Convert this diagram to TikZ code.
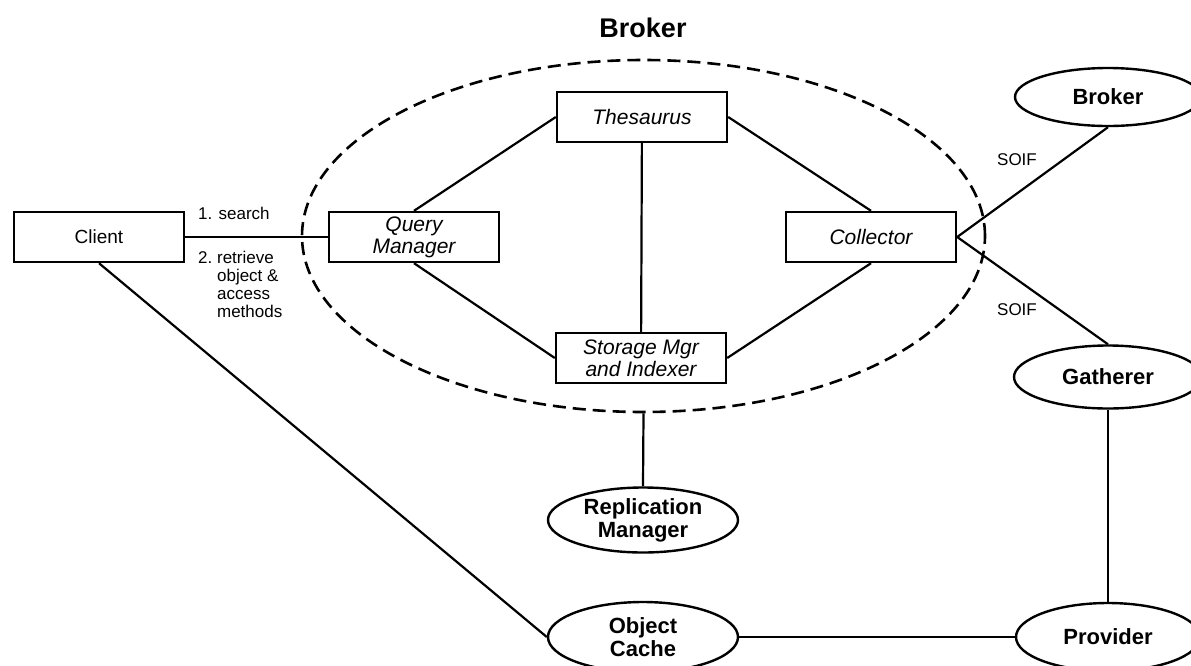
\documentclass[tikz,border=0pt]{standalone}
\usepackage{fontspec}
\setmainfont{Liberation Sans}
\usetikzlibrary{shapes.geometric}

\tikzset{
  part/.style={draw,line width=2.4pt,minimum width=170pt,minimum height=50pt,inner sep=0pt,align=center,font=\fontsize{21}{22}\selectfont\itshape},
  unit/.style={draw,ellipse,line width=2.4pt,inner sep=0pt,align=center,font=\fontsize{22}{23}\selectfont\bfseries},
  link/.style={line width=2.2pt},
  lbl/.style={inner sep=0pt,font=\fontsize{17}{18}\selectfont}
}

\begin{document}
\begin{tikzpicture}[x=1pt,y=-1pt]
\useasboundingbox (0,0) rectangle (1191,665);
\node[font=\fontsize{27}{30}\selectfont\bfseries] (title) at (643,28) {Broker};
\node[draw,ellipse,line width=2.6pt,dash pattern=on 13pt off 7pt,minimum width=683pt,minimum height=352pt] (broker) at (643.5,236) {};
% boxes inside the broker
\node[part] (thes) at (642,117) {Thesaurus};
\node[part] (query) at (414,237) {Query\\Manager};
\node[part] (coll) at (871,237) {Collector};
\node[part] (store) at (641,358) {Storage Mgr\\and Indexer};
\node[part,font=\fontsize{19}{22}\selectfont] (client) at (99,237) {Client};
% outside units
\node[unit,minimum width=186pt,minimum height=58pt] (rbroker) at (1108,97) {Broker};
\node[unit,minimum width=188pt,minimum height=63pt] (gath) at (1108,377) {Gatherer};
\node[unit,minimum width=190pt,minimum height=65pt] (repl) at (643,520) {Replication\\Manager};
\node[unit,minimum width=190pt,minimum height=70pt] (cache) at (643,637) {Object\\Cache};
\node[unit,minimum width=184pt,minimum height=68pt] (prov) at (1108,637) {Provider};
% labels
\node[lbl,anchor=west] (search) at (198,213) {1. search};
\node[lbl,anchor=north west] (retr) at (198,251) {\begin{tabular}{@{}l@{\ }l@{}}2.&retrieve\\&object \&\\&access\\&methods\end{tabular}};
\node[lbl] (soifa) at (1017,160) {SOIF};
\node[lbl] (soifb) at (1017,310) {SOIF};
% connectors
\draw[link] (client) -- (query);
\draw[link] (query.north) -- (thes.west);
\draw[link] (query.south) -- (store.west);
\draw[link] (thes) -- (store);
\draw[link] (thes.east) -- (coll.north);
\draw[link] (store.east) -- (coll.south);
\draw[link] (coll.east) -- (rbroker.south);
\draw[link] (coll.east) -- (gath.north);
\draw[link] (broker.south) -- (repl.north);
\draw[link] (client.south) -- (cache.west);
\draw[link] (cache) -- (prov);
\draw[link] (gath) -- (prov);
\end{tikzpicture}
\end{document}
